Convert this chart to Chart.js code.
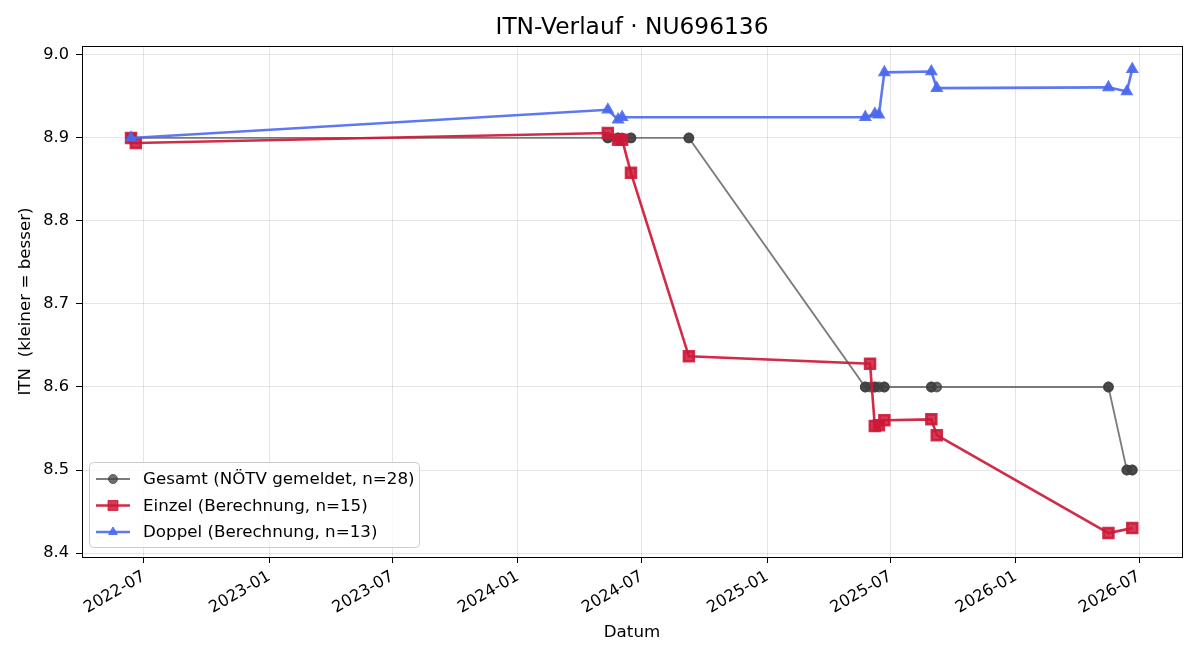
<!DOCTYPE html>
<html>
<head>
<meta charset="utf-8">
<script src="https://cdn.jsdelivr.net/npm/chart.js@4.4.1/dist/chart.umd.min.js"></script>
<style>
  html, body { margin: 0; padding: 0; background: #fff; }
  #wrap { width: 1200px; height: 660px; }
</style>
</head>
<body>
<div id="wrap"><canvas id="itnChart" width="1200" height="660"></canvas></div>
<script>
// Gesamt (NÖTV gemeldet) - many dates overlap
const gesamtDates = [
  '2022-06-12', '2022-06-12',
  '2024-05-12', '2024-05-12', '2024-05-27', '2024-05-27', '2024-06-02',
  '2024-06-15', '2024-06-15', '2024-09-08', '2024-09-08',
  '2025-05-25', '2025-05-25', '2025-06-01', '2025-06-08', '2025-06-08',
  '2025-06-14', '2025-06-22', '2025-06-22',
  '2025-08-30', '2025-08-30', '2025-09-07',
  '2026-05-17', '2026-05-17',
  '2026-06-13', '2026-06-13', '2026-06-21', '2026-06-21'
];
const gesamtValues = [
  8.9, 8.9,
  8.9, 8.9, 8.9, 8.9, 8.9,
  8.9, 8.9, 8.9, 8.9,
  8.6, 8.6, 8.6, 8.6, 8.6,
  8.6, 8.6, 8.6,
  8.6, 8.6, 8.6,
  8.6, 8.6,
  8.5, 8.5, 8.5, 8.5
];

const einzelDates = [
  '2022-06-12', '2022-06-19', '2024-05-12', '2024-05-27', '2024-06-02',
  '2024-06-15', '2024-09-08', '2025-06-01', '2025-06-08', '2025-06-14',
  '2025-06-22', '2025-08-30', '2025-09-07', '2026-05-17', '2026-06-21'
];
const einzelValues = [
  8.900, 8.894, 8.906, 8.898, 8.898,
  8.858, 8.637, 8.628, 8.553, 8.554,
  8.560, 8.561, 8.542, 8.424, 8.430
];

const doppelDates = [
  '2022-06-12', '2024-05-12', '2024-05-27', '2024-06-02', '2025-05-25',
  '2025-06-08', '2025-06-14', '2025-06-22', '2025-08-30', '2025-09-07',
  '2026-05-17', '2026-06-13', '2026-06-21'
];
const doppelValues = [
  8.900, 8.934, 8.922, 8.925, 8.925,
  8.929, 8.928, 8.979, 8.980, 8.960,
  8.961, 8.956, 8.983
];

const xTickLabels = ['2022-07', '2023-01', '2023-07', '2024-01', '2024-07', '2025-01', '2025-07', '2026-01', '2026-07'];
const yTickValues = [8.4, 8.5, 8.6, 8.7, 8.8, 8.9, 9.0];

const chartTitle = 'ITN-Verlauf · NU696136';
const seriesLabels = [
  'Gesamt (NÖTV gemeldet, n=28)',
  'Einzel (Berechnung, n=15)',
  'Doppel (Berechnung, n=13)'
];

function dayNum(s) {
  const p = s.split('-').map(Number);
  return Date.UTC(p[0], p[1] - 1, p[2] || 1) / 86400000;
}

function toPoints(dates, values) {
  return dates.map((d, i) => ({ x: dayNum(d), y: values[i] }));
}

const FONT = "'DejaVu Sans', sans-serif";

const frameAndLegend = {
  id: 'frameAndLegend',
  afterDraw(chart) {
    const c = chart.ctx;
    const a = chart.chartArea;
    c.save();
    c.strokeStyle = '#000';
    c.lineWidth = 1;
    c.strokeRect(Math.round(a.left) + 0.5, Math.round(a.top) + 0.5,
      Math.round(a.right - a.left), Math.round(a.bottom - a.top));

    // title centred over the axes
    c.fillStyle = '#000';
    c.font = '23.3px ' + FONT;
    c.textAlign = 'center';
    c.textBaseline = 'middle';
    c.fillText(chartTitle, (a.left + a.right) / 2, 28);

    // legend box (lower left, matplotlib style)
    const bx = a.left + 7, by = a.bottom - 95, bw = 330, bh = 85;
    c.fillStyle = 'rgba(255,255,255,0.8)';
    c.strokeStyle = '#cccccc';
    c.lineWidth = 1;
    c.beginPath();
    c.roundRect(bx + 0.5, by + 0.5, bw, bh, 4);
    c.fill();
    c.stroke();

    c.font = '16.7px ' + FONT;
    c.textAlign = 'left';
    chart.data.datasets.forEach((ds, i) => {
      const y = by + 17 + i * 26.5;
      c.strokeStyle = ds.borderColor;
      c.lineWidth = ds.borderWidth;
      c.beginPath();
      c.moveTo(bx + 7, y);
      c.lineTo(bx + 41, y);
      c.stroke();
      c.fillStyle = ds.pointBackgroundColor;
      c.strokeStyle = ds.pointBorderColor;
      c.lineWidth = 1;
      Chart.helpers.drawPoint(c, {
        pointStyle: ds.pointStyle,
        radius: ds.pointRadius,
        rotation: 0,
        borderWidth: 1
      }, bx + 24, y);
      c.fillStyle = '#000';
      c.fillText(seriesLabels[i], bx + 54, y + 1);
    });
    c.restore();
  }
};

new Chart(document.getElementById('itnChart'), {
  type: 'line',
  data: {
    datasets: [
      {
        label: seriesLabels[0],
        data: toPoints(gesamtDates, gesamtValues),
        borderColor: 'rgba(100,100,100,0.85)',
        pointBackgroundColor: 'rgba(64,64,64,0.75)',
        pointBorderColor: 'rgba(64,64,64,0.75)',
        borderWidth: 1.8,
        pointStyle: 'circle',
        pointRadius: 4.5,
        order: 3
      },
      {
        label: seriesLabels[1],
        data: toPoints(einzelDates, einzelValues),
        borderColor: 'rgba(205,25,55,0.92)',
        pointBackgroundColor: 'rgba(205,25,55,0.85)',
        pointBorderColor: 'rgba(205,25,55,0.9)',
        borderWidth: 2.6,
        pointStyle: 'rect',
        pointRadius: 7,
        order: 2
      },
      {
        label: seriesLabels[2],
        data: toPoints(doppelDates, doppelValues),
        borderColor: 'rgba(75,105,240,0.9)',
        pointBackgroundColor: 'rgba(75,105,240,0.9)',
        pointBorderColor: 'rgba(75,105,240,0.9)',
        borderWidth: 2.6,
        pointStyle: 'triangle',
        pointRadius: 5,
        order: 1
      }
    ]
  },
  options: {
    responsive: false,
    animation: false,
    events: [],
    layout: { padding: { left: 0, right: 18, top: 46, bottom: 0 } },
    plugins: {
      legend: { display: false },
      tooltip: { enabled: false },
      title: { display: false }
    },
    scales: {
      x: {
        type: 'linear',
        min: dayNum('2022-04-01'),
        max: dayNum('2026-09-02'),
        afterBuildTicks(scale) {
          scale.ticks = xTickLabels.map(l => ({ value: dayNum(l + '-01') }));
        },
        afterFit(scale) { scale.height = 103; },
        ticks: {
          autoSkip: false,
          minRotation: 30,
          maxRotation: 30,
          color: '#000',
          padding: 4,
          font: { family: FONT, size: 16.2 },
          callback(value) {
            const d = new Date(value * 86400000);
            return d.getUTCFullYear() + '-' + String(d.getUTCMonth() + 1).padStart(2, '0');
          }
        },
        grid: { color: 'rgba(0,0,0,0.1)', tickColor: '#000', tickLength: 6 },
        border: { display: false },
        title: {
          display: true,
          text: 'Datum',
          color: '#000',
          font: { family: FONT, size: 16.7 },
          padding: { top: 0, bottom: 17 }
        }
      },
      y: {
        type: 'linear',
        min: 8.3952,
        max: 9.0108,
        afterBuildTicks(scale) {
          scale.ticks = yTickValues.map(v => ({ value: v }));
        },
        afterFit(scale) { scale.width = 82; },
        ticks: {
          color: '#000',
          padding: 7,
          font: { family: FONT, size: 16.2 },
          callback(value) { return value.toFixed(1); }
        },
        grid: { color: 'rgba(0,0,0,0.1)', tickColor: '#000', tickLength: 6 },
        border: { display: false },
        title: {
          display: true,
          text: 'ITN  (kleiner = besser)',
          color: '#000',
          font: { family: FONT, size: 16.7 },
          padding: { top: 16, bottom: 6 }
        }
      }
    }
  },
  plugins: [frameAndLegend]
});
</script>
</body>
</html>
